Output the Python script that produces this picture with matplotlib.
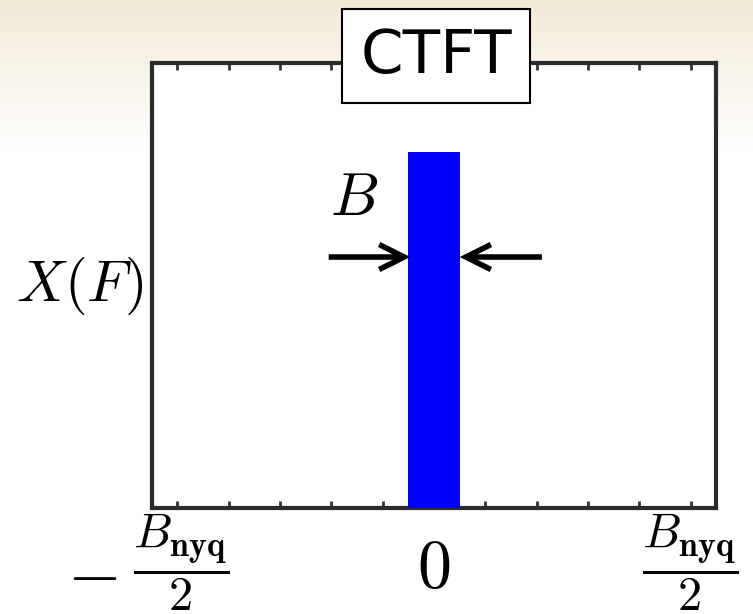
import numpy as np
import matplotlib
matplotlib.use('Agg')
import matplotlib.pyplot as plt
from matplotlib.patches import FancyArrowPatch

plt.rcParams['mathtext.fontset'] = 'cm'

# band-limited spectrum: one rectangle of width B centred at 0
band_left = -0.5
band_width = 1.0
band_height = 1.0
tick_pos = list(range(-5, 6))
freq_labels = [r'$\dfrac{B_{\mathbf{nyq}}}{2}$', r'$0$', r'$\dfrac{B_{\mathbf{nyq}}}{2}$']
freq_label_x = [-4.91, 0.0, 4.99]

fig = plt.figure(figsize=(7.53, 6.14), dpi=100)

# slide-like background (beige at top fading to white)
bg = fig.add_axes([0, 0, 1, 1], zorder=-10)
rows = 614
top_col = np.array([243, 234, 214]) / 255.0
fade = np.clip(np.arange(rows) / 150.0, 0, 1)[:, None]
grad = top_col * (1 - fade) + 1.0 * fade
bg.imshow(grad[:, None, :], aspect='auto', extent=[0, 1, 0, 1])
bg.axis('off')

ax = fig.add_axes([152 / 753, 106 / 614, 564 / 753, 445 / 614])
ax.set_facecolor('white')
ax.bar([band_left], [band_height], width=band_width, align='edge',
       color='#0000ff', zorder=3)

ax.set_xlim(-5.49, 5.49)
ax.set_ylim(0, 1.25)
ax.set_xticks(tick_pos)
ax.set_xticklabels([])
ax.set_yticks([])
ax.tick_params(axis='x', direction='in', length=5, width=2, color='#333333',
               top=True, bottom=True)
for s in ax.spines.values():
    s.set_linewidth(3)
    s.set_color('#2b2b2b')

# frequency labels under the axis
for xv, lab in zip(freq_label_x, freq_labels):
    if lab == r'$0$':
        ax.text(xv, -0.222, lab, fontsize=49, ha='center', va='baseline', clip_on=False)
    else:
        ax.text(xv, -0.207, lab, fontsize=35, ha='center', va='baseline', clip_on=False)
# minus sign of the left label
ax.text(-6.66, -0.168, r'$-$', fontsize=50, ha='center', va='center_baseline',
        clip_on=False)

ax.set_ylabel(r'$X(F)$', fontsize=42, rotation=0, ha='right', va='center')
ax.yaxis.set_label_coords(-0.015, 0.5)

# width arrows
for x0, x1 in [(-2.05, -0.46), (2.1, 0.5)]:
    ax.add_patch(FancyArrowPatch((x0, 0.705), (x1, 0.705),
                                 arrowstyle='->,head_length=18,head_width=9',
                                 mutation_scale=1, lw=4, color='black',
                                 shrinkA=0, shrinkB=0, zorder=4,
                                 joinstyle='miter', capstyle='butt'))
ax.text(-1.55, 0.87, r'$B$', fontsize=44, ha='center', va='center')

fig.text(436 / 753, 1 - 56 / 614, 'CTFT', fontsize=44, family='DejaVu Sans',
         ha='center', va='center',
         bbox=dict(boxstyle='square,pad=0.29', fc='white', ec='black', lw=1.5))

fig.savefig('out.png', dpi=100)
